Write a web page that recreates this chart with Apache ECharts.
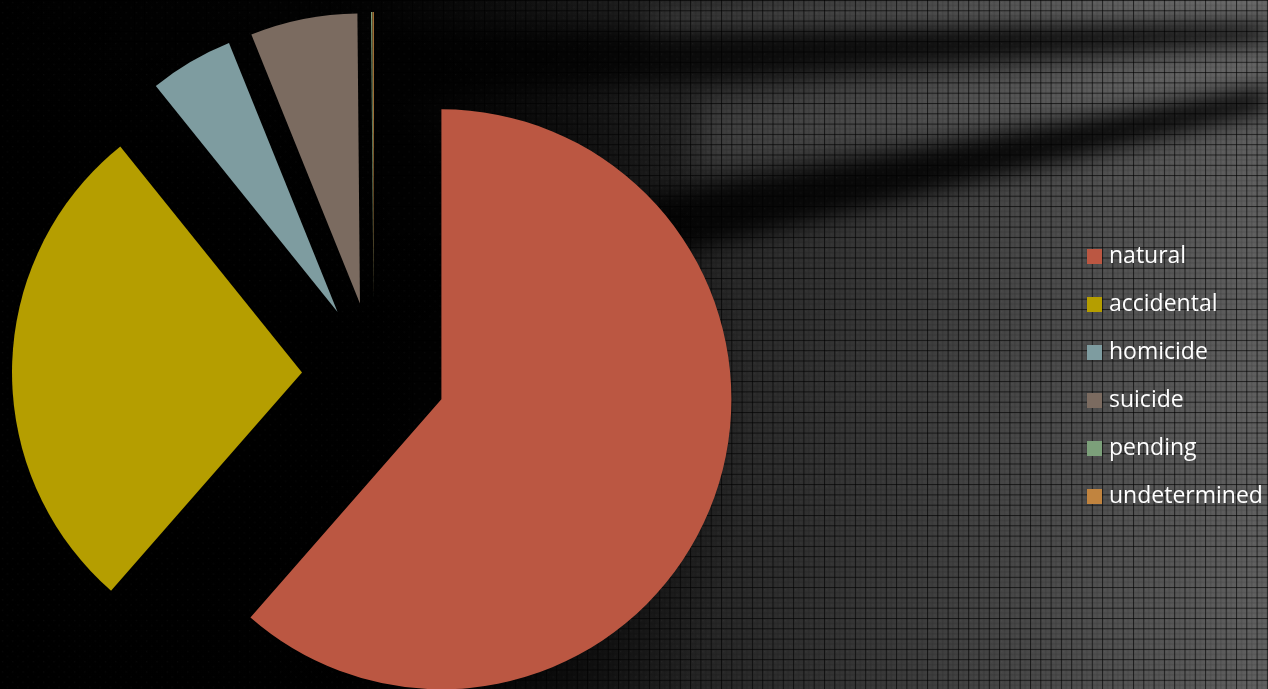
<!DOCTYPE html>
<html>
<head>
<meta charset="utf-8">
<script src="https://cdn.jsdelivr.net/npm/echarts@6/dist/echarts.min.js"></script>
<style>
  html, body { margin:0; padding:0; width:1268px; height:689px; overflow:hidden; background:#000; }
  #bg { position:absolute; left:0; top:0; width:1268px; height:689px; }
  #chart { position:absolute; left:0; top:0; width:1268px; height:689px; }
</style>
</head>
<body>
<svg id="bg" width="1268" height="689" xmlns="http://www.w3.org/2000/svg">
  <defs>
    <linearGradient id="base" x1="0" y1="0" x2="1" y2="0">
      <stop offset="0" stop-color="#000"/>
      <stop offset="0.30" stop-color="#060606"/>
      <stop offset="0.50" stop-color="#1e1e1e"/>
      <stop offset="0.62" stop-color="#2e2e2e"/>
      <stop offset="0.80" stop-color="#474747"/>
      <stop offset="1" stop-color="#606060"/>
    </linearGradient>
    <radialGradient id="blackL" cx="0.5" cy="0.5" r="0.5">
      <stop offset="0" stop-color="#000" stop-opacity="1"/>
      <stop offset="0.6" stop-color="#000" stop-opacity="0.9"/>
      <stop offset="1" stop-color="#000" stop-opacity="0"/>
    </radialGradient>
    <filter id="blur8" x="-20%" y="-200%" width="140%" height="500%"><feGaussianBlur stdDeviation="11"/></filter>
    <filter id="blur14" x="-20%" y="-200%" width="140%" height="500%"><feGaussianBlur stdDeviation="14"/></filter>
    <pattern id="grid" width="10.3" height="10.3" patternUnits="userSpaceOnUse">
      <rect x="0" y="0" width="10.3" height="1" fill="#000" fill-opacity="0.65"/>
      <rect x="0" y="0" width="1" height="10.3" fill="#000" fill-opacity="0.65"/>
      <rect x="0" y="5" width="10.3" height="1" fill="#000" fill-opacity="0.12"/>
      <rect x="5" y="0" width="1" height="10.3" fill="#000" fill-opacity="0.12"/>
      <rect x="2" y="2" width="1" height="1" fill="#fff" fill-opacity="0.05"/>
      <rect x="7" y="7" width="1" height="1" fill="#fff" fill-opacity="0.05"/>
    </pattern>
  </defs>
  <rect x="0" y="0" width="1268" height="689" fill="url(#base)"/>
  <!-- bright streaks top right -->
  <polygon points="650,15 1268,-10 1268,25 650,55" fill="#909090" fill-opacity="0.35" filter="url(#blur14)"/>
  <polygon points="700,100 1268,50 1268,90 700,170" fill="#808080" fill-opacity="0.25" filter="url(#blur14)"/>
  <!-- dark streaks -->
  <polygon points="380,30 1268,22 1268,42 380,100" fill="#000" fill-opacity="0.8" filter="url(#blur8)"/>
  <polygon points="400,240 1268,86 1268,112 400,320" fill="#000" fill-opacity="0.85" filter="url(#blur8)"/>
  <!-- black left area -->
  <ellipse cx="230" cy="420" rx="520" ry="560" fill="url(#blackL)"/>
  <rect x="0" y="0" width="1268" height="689" fill="url(#grid)"/>
</svg>
<div id="chart"></div>
<script>
const categories = ['natural', 'accidental', 'homicide', 'suicide', 'pending', 'undetermined'];
const values = [61.44, 27.78, 4.67, 5.97, 0.07, 0.07];
const colors = ['#BB5742', '#B59E00', '#7E9CA0', '#7B6B60', '#7CA07A', '#C1843F'];

const chart = echarts.init(document.getElementById('chart'), null, { renderer: 'canvas' });
chart.setOption({
  backgroundColor: 'transparent',
  animation: false,
  color: colors,
  legend: {
    orient: 'vertical',
    left: 1082,
    top: 240,
    itemWidth: 15,
    itemHeight: 15,
    itemGap: 25,
    icon: 'rect',
    selectedMode: false,
    data: categories,
    textStyle: { color: '#ffffff', fontSize: 23, fontFamily: 'Open Sans', padding: [0, 0, 0, 2] }
  },
  series: [{
    type: 'pie',
    center: [374, 374],
    radius: 290,
    startAngle: 90,
    clockwise: true,
    selectedMode: 'multiple',
    selectedOffset: 72,
    avoidLabelOverlap: false,
    label: { show: false },
    labelLine: { show: false },
    emphasis: { disabled: true },
    itemStyle: { borderWidth: 0 },
    data: categories.map((c, i) => ({ name: c, value: values[i], selected: true }))
  }]
});
</script>
</body>
</html>
